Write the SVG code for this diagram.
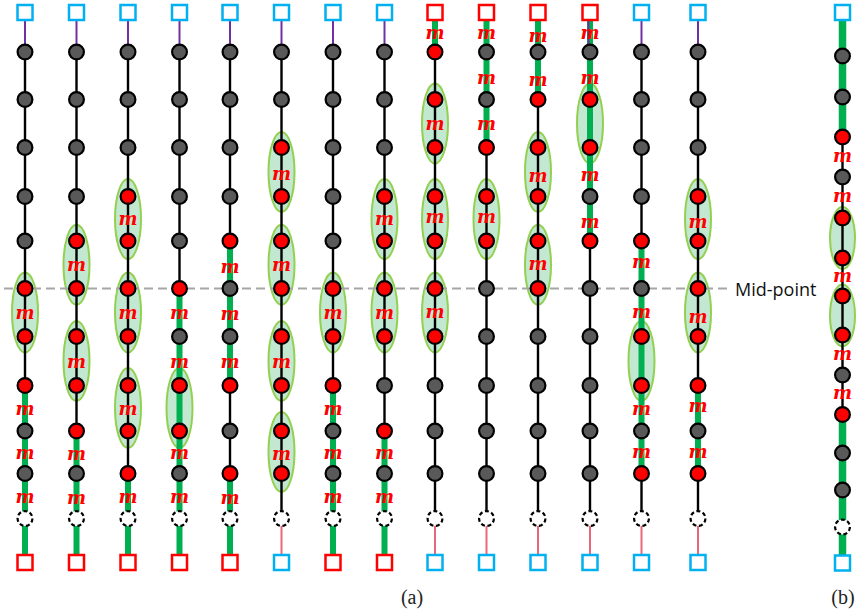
<svg xmlns="http://www.w3.org/2000/svg" width="859" height="613" viewBox="0 0 859 613">
<style>
.k{stroke:#000;stroke-width:2.4}
.gr{stroke:#00b050;stroke-width:6}
.gb{stroke:#00b050;stroke-width:7.5}
.pu{stroke:#7030a0;stroke-width:2}
.pk{stroke:#e9677a;stroke-width:2}
.el{fill:#c2e8d2;stroke:#92d050;stroke-width:2}
.mid{stroke:#a6a6a6;stroke-width:2.2;stroke-dasharray:9 5}
.m{font-family:"DejaVu Serif","Liberation Serif",serif;font-style:italic;font-weight:bold;font-size:18px;fill:#f00;text-anchor:middle}
.cap{font-family:"Liberation Serif","DejaVu Serif",serif;font-size:20px;fill:#222;text-anchor:middle}
.lbl{font-family:"Open Sans","Liberation Sans",sans-serif;font-size:18px;fill:#111}
</style>
<defs>
<circle id="G" r="7.4" fill="#595959" stroke="#000" stroke-width="2.2"/>
<circle id="R" r="7.4" fill="#ff0000" stroke="#000" stroke-width="2.2"/>
<circle id="D" r="7.4" fill="#fff" stroke="#000" stroke-width="2.2" stroke-dasharray="4 2.6"/>
<rect id="SC" x="-7.5" y="-7.5" width="15" height="15" fill="#fff" stroke="#00b0f0" stroke-width="2.5"/>
<rect id="SR" x="-7.5" y="-7.5" width="15" height="15" fill="#fff" stroke="#ff0000" stroke-width="2.5"/>
<ellipse id="E" class="el" rx="13" ry="40"/>
<ellipse id="EB" class="el" rx="12.5" ry="31"/>
</defs>
<rect width="859" height="613" fill="#fff"/>

<!-- paired-node groupings -->
<g id="pairs">
<g transform="translate(25 0)"><use href="#E" y="312.5"/></g>
<g transform="translate(76.5 0)"><use href="#E" y="264.75"/><use href="#E" y="361"/></g>
<g transform="translate(128 0)"><use href="#E" y="219"/><use href="#E" y="312.5"/><use href="#E" y="408"/></g>
<g transform="translate(179.5 0)"><use href="#E" y="408"/></g>
<g transform="translate(281.5 0)"><use href="#E" y="172"/><use href="#E" y="264.75"/><use href="#E" y="361"/><use href="#E" y="452"/></g>
<g transform="translate(333 0)"><use href="#E" y="312.5"/></g>
<g transform="translate(384.5 0)"><use href="#E" y="219"/><use href="#E" y="312.5"/></g>
<g transform="translate(435 0)"><use href="#E" y="123.5"/><use href="#E" y="219"/><use href="#E" y="312.5"/></g>
<g transform="translate(486.5 0)"><use href="#E" y="219"/></g>
<g transform="translate(538 0)"><use href="#E" y="172"/><use href="#E" y="264.75"/></g>
<g transform="translate(590 0)"><use href="#E" y="123.5"/></g>
<g transform="translate(641.5 0)"><use href="#E" y="361"/></g>
<g transform="translate(698 0)"><use href="#E" y="219"/><use href="#E" y="312.5"/></g>
<g transform="translate(842.5 0)"><use href="#EB" y="238"/><use href="#EB" y="315.5"/></g>
</g>

<!-- mid-point guide -->
<line class="mid" x1="4" y1="288.5" x2="731" y2="288.5"/>

<!-- connectors -->
<g id="connectors">
<g transform="translate(25 0)"><line class="pu" y1="12.5" y2="52"/><line class="k" y1="52" y2="385.5"/><line class="gr" y1="385.5" y2="562.5"/></g>
<g transform="translate(76.5 0)"><line class="pu" y1="12.5" y2="52"/><line class="k" y1="52" y2="431"/><line class="gr" y1="431" y2="562.5"/></g>
<g transform="translate(128 0)"><line class="pu" y1="12.5" y2="52"/><line class="k" y1="52" y2="473.5"/><line class="gr" y1="473.5" y2="562.5"/></g>
<g transform="translate(179.5 0)"><line class="pu" y1="12.5" y2="52"/><line class="k" y1="52" y2="288.5"/><line class="gr" y1="288.5" y2="562.5"/></g>
<g transform="translate(230 0)"><line class="pu" y1="12.5" y2="52"/><line class="k" y1="52" y2="241"/><line class="gr" y1="241" y2="385.5"/><line class="k" y1="385.5" y2="473.5"/><line class="gr" y1="473.5" y2="562.5"/></g>
<g transform="translate(281.5 0)"><line class="pu" y1="12.5" y2="52"/><line class="k" y1="52" y2="518.5"/><line class="pk" y1="518.5" y2="562.5"/></g>
<g transform="translate(333 0)"><line class="pu" y1="12.5" y2="52"/><line class="k" y1="52" y2="385.5"/><line class="gr" y1="385.5" y2="562.5"/></g>
<g transform="translate(384.5 0)"><line class="pu" y1="12.5" y2="52"/><line class="k" y1="52" y2="431"/><line class="gr" y1="431" y2="562.5"/></g>
<g transform="translate(435 0)"><line class="gr" y1="12.5" y2="52"/><line class="k" y1="52" y2="518.5"/><line class="pk" y1="518.5" y2="562.5"/></g>
<g transform="translate(486.5 0)"><line class="gr" y1="12.5" y2="147.5"/><line class="k" y1="147.5" y2="518.5"/><line class="pk" y1="518.5" y2="562.5"/></g>
<g transform="translate(538 0)"><line class="gr" y1="12.5" y2="99.5"/><line class="k" y1="99.5" y2="518.5"/><line class="pk" y1="518.5" y2="562.5"/></g>
<g transform="translate(590 0)"><line class="gr" y1="12.5" y2="241"/><line class="pu" x1="-1.5" x2="-1.5" y1="12.5" y2="52"/><line class="k" y1="241" y2="518.5"/><line class="pk" y1="518.5" y2="562.5"/></g>
<g transform="translate(641.5 0)"><line class="pu" y1="12.5" y2="52"/><line class="k" y1="52" y2="241"/><line class="gr" y1="241" y2="473.5"/><line class="k" y1="473.5" y2="518.5"/><line class="pk" y1="518.5" y2="562.5"/></g>
<g transform="translate(698 0)"><line class="pu" y1="12.5" y2="52"/><line class="k" y1="52" y2="385.5"/><line class="gr" y1="385.5" y2="473.5"/><line class="k" y1="473.5" y2="518.5"/><line class="pk" y1="518.5" y2="562.5"/></g>
<g transform="translate(842.5 0)"><line class="gb" y1="12.5" y2="137"/><line class="k" y1="137" y2="414.5"/><line class="gb" y1="414.5" y2="563"/></g>
</g>

<!-- nodes -->
<g id="nodes">
<g id="col1" transform="translate(25 0)">
<use id="n1_0" href="#SC" y="12.5"/><use id="n1_1" href="#G" y="52"/><use id="n1_2" href="#G" y="99.5"/><use id="n1_3" href="#G" y="147.5"/><use id="n1_4" href="#G" y="196.5"/><use id="n1_5" href="#G" y="241"/><use id="n1_6" href="#R" y="288.5"/><use id="n1_7" href="#R" y="336.5"/><use id="n1_8" href="#R" y="385.5"/><use id="n1_9" href="#G" y="431"/><use id="n1_10" href="#G" y="473.5"/><use id="n1_11" href="#D" y="518.5"/><use id="n1_12" href="#SR" y="562.5"/>
</g>
<g id="col2" transform="translate(76.5 0)">
<use id="n2_0" href="#SC" y="12.5"/><use id="n2_1" href="#G" y="52"/><use id="n2_2" href="#G" y="99.5"/><use id="n2_3" href="#G" y="147.5"/><use id="n2_4" href="#G" y="196.5"/><use id="n2_5" href="#R" y="241"/><use id="n2_6" href="#R" y="288.5"/><use id="n2_7" href="#R" y="336.5"/><use id="n2_8" href="#R" y="385.5"/><use id="n2_9" href="#R" y="431"/><use id="n2_10" href="#G" y="473.5"/><use id="n2_11" href="#D" y="518.5"/><use id="n2_12" href="#SR" y="562.5"/>
</g>
<g id="col3" transform="translate(128 0)">
<use id="n3_0" href="#SC" y="12.5"/><use id="n3_1" href="#G" y="52"/><use id="n3_2" href="#G" y="99.5"/><use id="n3_3" href="#G" y="147.5"/><use id="n3_4" href="#R" y="196.5"/><use id="n3_5" href="#R" y="241"/><use id="n3_6" href="#R" y="288.5"/><use id="n3_7" href="#R" y="336.5"/><use id="n3_8" href="#R" y="385.5"/><use id="n3_9" href="#R" y="431"/><use id="n3_10" href="#R" y="473.5"/><use id="n3_11" href="#D" y="518.5"/><use id="n3_12" href="#SR" y="562.5"/>
</g>
<g id="col4" transform="translate(179.5 0)">
<use id="n4_0" href="#SC" y="12.5"/><use id="n4_1" href="#G" y="52"/><use id="n4_2" href="#G" y="99.5"/><use id="n4_3" href="#G" y="147.5"/><use id="n4_4" href="#G" y="196.5"/><use id="n4_5" href="#G" y="241"/><use id="n4_6" href="#R" y="288.5"/><use id="n4_7" href="#G" y="336.5"/><use id="n4_8" href="#R" y="385.5"/><use id="n4_9" href="#R" y="431"/><use id="n4_10" href="#G" y="473.5"/><use id="n4_11" href="#D" y="518.5"/><use id="n4_12" href="#SR" y="562.5"/>
</g>
<g id="col5" transform="translate(230 0)">
<use id="n5_0" href="#SC" y="12.5"/><use id="n5_1" href="#G" y="52"/><use id="n5_2" href="#G" y="99.5"/><use id="n5_3" href="#G" y="147.5"/><use id="n5_4" href="#G" y="196.5"/><use id="n5_5" href="#R" y="241"/><use id="n5_6" href="#G" y="288.5"/><use id="n5_7" href="#G" y="336.5"/><use id="n5_8" href="#R" y="385.5"/><use id="n5_9" href="#G" y="431"/><use id="n5_10" href="#R" y="473.5"/><use id="n5_11" href="#D" y="518.5"/><use id="n5_12" href="#SR" y="562.5"/>
</g>
<g id="col6" transform="translate(281.5 0)">
<use id="n6_0" href="#SC" y="12.5"/><use id="n6_1" href="#G" y="52"/><use id="n6_2" href="#G" y="99.5"/><use id="n6_3" href="#R" y="147.5"/><use id="n6_4" href="#R" y="196.5"/><use id="n6_5" href="#R" y="241"/><use id="n6_6" href="#R" y="288.5"/><use id="n6_7" href="#R" y="336.5"/><use id="n6_8" href="#R" y="385.5"/><use id="n6_9" href="#R" y="431"/><use id="n6_10" href="#R" y="473.5"/><use id="n6_11" href="#D" y="518.5"/><use id="n6_12" href="#SC" y="562.5"/>
</g>
<g id="col7" transform="translate(333 0)">
<use id="n7_0" href="#SC" y="12.5"/><use id="n7_1" href="#G" y="52"/><use id="n7_2" href="#G" y="99.5"/><use id="n7_3" href="#G" y="147.5"/><use id="n7_4" href="#G" y="196.5"/><use id="n7_5" href="#G" y="241"/><use id="n7_6" href="#R" y="288.5"/><use id="n7_7" href="#R" y="336.5"/><use id="n7_8" href="#R" y="385.5"/><use id="n7_9" href="#G" y="431"/><use id="n7_10" href="#G" y="473.5"/><use id="n7_11" href="#D" y="518.5"/><use id="n7_12" href="#SR" y="562.5"/>
</g>
<g id="col8" transform="translate(384.5 0)">
<use id="n8_0" href="#SC" y="12.5"/><use id="n8_1" href="#G" y="52"/><use id="n8_2" href="#G" y="99.5"/><use id="n8_3" href="#G" y="147.5"/><use id="n8_4" href="#R" y="196.5"/><use id="n8_5" href="#R" y="241"/><use id="n8_6" href="#R" y="288.5"/><use id="n8_7" href="#R" y="336.5"/><use id="n8_8" href="#G" y="385.5"/><use id="n8_9" href="#R" y="431"/><use id="n8_10" href="#G" y="473.5"/><use id="n8_11" href="#D" y="518.5"/><use id="n8_12" href="#SR" y="562.5"/>
</g>
<g id="col9" transform="translate(435 0)">
<use id="n9_0" href="#SR" y="12.5"/><use id="n9_1" href="#R" y="52"/><use id="n9_2" href="#R" y="99.5"/><use id="n9_3" href="#R" y="147.5"/><use id="n9_4" href="#R" y="196.5"/><use id="n9_5" href="#R" y="241"/><use id="n9_6" href="#R" y="288.5"/><use id="n9_7" href="#R" y="336.5"/><use id="n9_8" href="#G" y="385.5"/><use id="n9_9" href="#G" y="431"/><use id="n9_10" href="#G" y="473.5"/><use id="n9_11" href="#D" y="518.5"/><use id="n9_12" href="#SC" y="562.5"/>
</g>
<g id="col10" transform="translate(486.5 0)">
<use id="n10_0" href="#SR" y="12.5"/><use id="n10_1" href="#G" y="52"/><use id="n10_2" href="#G" y="99.5"/><use id="n10_3" href="#R" y="147.5"/><use id="n10_4" href="#R" y="196.5"/><use id="n10_5" href="#R" y="241"/><use id="n10_6" href="#G" y="288.5"/><use id="n10_7" href="#G" y="336.5"/><use id="n10_8" href="#G" y="385.5"/><use id="n10_9" href="#G" y="431"/><use id="n10_10" href="#G" y="473.5"/><use id="n10_11" href="#D" y="518.5"/><use id="n10_12" href="#SC" y="562.5"/>
</g>
<g id="col11" transform="translate(538 0)">
<use id="n11_0" href="#SR" y="12.5"/><use id="n11_1" href="#G" y="52"/><use id="n11_2" href="#R" y="99.5"/><use id="n11_3" href="#R" y="147.5"/><use id="n11_4" href="#R" y="196.5"/><use id="n11_5" href="#R" y="241"/><use id="n11_6" href="#R" y="288.5"/><use id="n11_7" href="#G" y="336.5"/><use id="n11_8" href="#G" y="385.5"/><use id="n11_9" href="#G" y="431"/><use id="n11_10" href="#G" y="473.5"/><use id="n11_11" href="#D" y="518.5"/><use id="n11_12" href="#SC" y="562.5"/>
</g>
<g id="col12" transform="translate(590 0)">
<use id="n12_0" href="#SR" y="12.5"/><use id="n12_1" href="#G" y="52"/><use id="n12_2" href="#R" y="99.5"/><use id="n12_3" href="#R" y="147.5"/><use id="n12_4" href="#G" y="196.5"/><use id="n12_5" href="#R" y="241"/><use id="n12_6" href="#G" y="288.5"/><use id="n12_7" href="#G" y="336.5"/><use id="n12_8" href="#G" y="385.5"/><use id="n12_9" href="#G" y="431"/><use id="n12_10" href="#G" y="473.5"/><use id="n12_11" href="#D" y="518.5"/><use id="n12_12" href="#SC" y="562.5"/>
</g>
<g id="col13" transform="translate(641.5 0)">
<use id="n13_0" href="#SC" y="12.5"/><use id="n13_1" href="#G" y="52"/><use id="n13_2" href="#G" y="99.5"/><use id="n13_3" href="#G" y="147.5"/><use id="n13_4" href="#G" y="196.5"/><use id="n13_5" href="#R" y="241"/><use id="n13_6" href="#G" y="288.5"/><use id="n13_7" href="#R" y="336.5"/><use id="n13_8" href="#R" y="385.5"/><use id="n13_9" href="#G" y="431"/><use id="n13_10" href="#R" y="473.5"/><use id="n13_11" href="#D" y="518.5"/><use id="n13_12" href="#SC" y="562.5"/>
</g>
<g id="col14" transform="translate(698 0)">
<use id="n14_0" href="#SC" y="12.5"/><use id="n14_1" href="#G" y="52"/><use id="n14_2" href="#G" y="99.5"/><use id="n14_3" href="#G" y="147.5"/><use id="n14_4" href="#R" y="196.5"/><use id="n14_5" href="#R" y="241"/><use id="n14_6" href="#R" y="288.5"/><use id="n14_7" href="#R" y="336.5"/><use id="n14_8" href="#R" y="385.5"/><use id="n14_9" href="#G" y="431"/><use id="n14_10" href="#R" y="473.5"/><use id="n14_11" href="#D" y="518.5"/><use id="n14_12" href="#SC" y="562.5"/>
</g>
<g id="colb" transform="translate(842.5 0)">
<use id="nb_0" href="#SC" y="12.5"/><use id="nb_1" href="#G" y="56"/><use id="nb_2" href="#G" y="97"/><use id="nb_3" href="#R" y="137"/><use id="nb_4" href="#G" y="177"/><use id="nb_5" href="#R" y="218"/><use id="nb_6" href="#R" y="258"/><use id="nb_7" href="#R" y="296"/><use id="nb_8" href="#R" y="335"/><use id="nb_9" href="#G" y="375"/><use id="nb_10" href="#R" y="414.5"/><use id="nb_11" href="#G" y="453"/><use id="nb_12" href="#G" y="490"/><use id="nb_13" href="#D" y="527"/><use id="nb_14" href="#SC" y="563"/>
</g>
</g>

<!-- m labels on links and pairs -->
<g id="labels">
<g transform="translate(25 0)"><text class="m" y="319">m</text><text class="m" y="414.5">m</text><text class="m" y="458.5">m</text><text class="m" y="502.5">m</text></g>
<g transform="translate(76.5 0)"><text class="m" y="271">m</text><text class="m" y="367.5">m</text><text class="m" y="460">m</text><text class="m" y="504">m</text></g>
<g transform="translate(128 0)"><text class="m" y="225">m</text><text class="m" y="319">m</text><text class="m" y="414.5">m</text><text class="m" y="502.5">m</text></g>
<g transform="translate(179.5 0)"><text class="m" y="319">m</text><text class="m" y="367.5">m</text><text class="m" y="458.5">m</text><text class="m" y="502.5">m</text></g>
<g transform="translate(230 0)"><text class="m" y="272.5">m</text><text class="m" y="320">m</text><text class="m" y="367.5">m</text><text class="m" y="504">m</text></g>
<g transform="translate(281.5 0)"><text class="m" y="180">m</text><text class="m" y="271">m</text><text class="m" y="367.5">m</text><text class="m" y="459.5">m</text></g>
<g transform="translate(333 0)"><text class="m" y="319">m</text><text class="m" y="414.5">m</text><text class="m" y="458.5">m</text><text class="m" y="502.5">m</text></g>
<g transform="translate(384.5 0)"><text class="m" y="225">m</text><text class="m" y="319">m</text><text class="m" y="458.5">m</text><text class="m" y="502.5">m</text></g>
<g transform="translate(435 0)"><text class="m" y="38.5">m</text><text class="m" y="130">m</text><text class="m" y="223">m</text><text class="m" y="318">m</text></g>
<g transform="translate(486.5 0)"><text class="m" y="38.5">m</text><text class="m" y="84">m</text><text class="m" y="130">m</text><text class="m" y="223">m</text></g>
<g transform="translate(538 0)"><text class="m" y="41.5">m</text><text class="m" y="86">m</text><text class="m" y="181.5">m</text><text class="m" y="270">m</text></g>
<g transform="translate(590 0)"><text class="m" y="38.5">m</text><text class="m" y="83.5">m</text><text class="m" y="180.5">m</text><text class="m" y="227.5">m</text></g>
<g transform="translate(641.5 0)"><text class="m" y="268">m</text><text class="m" y="317.5">m</text><text class="m" y="414.5">m</text><text class="m" y="458">m</text></g>
<g transform="translate(698 0)"><text class="m" y="227.5">m</text><text class="m" y="322.5">m</text><text class="m" y="412">m</text><text class="m" y="458">m</text></g>
<g transform="translate(842.5 0)"><text class="m" y="162">m</text><text class="m" y="202">m</text><text class="m" y="281.5">m</text><text class="m" y="360">m</text><text class="m" y="398.5">m</text></g>
<text class="lbl" x="735" y="296">Mid-point</text>
<text class="cap" x="412" y="604">(a)</text>
<text class="cap" x="843" y="604">(b)</text>
</g>
</svg>
